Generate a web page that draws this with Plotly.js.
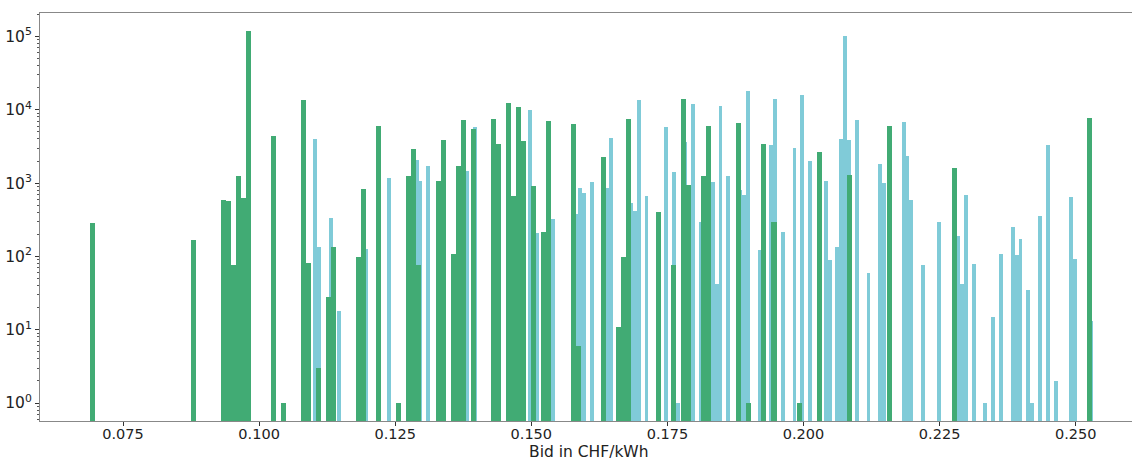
<!DOCTYPE html>
<html>
<head>
<meta charset="utf-8">
<script src="https://cdn.plot.ly/plotly-3.0.1.min.js"></script>
<style>html,body{margin:0;padding:0;background:#fff;overflow:hidden}#chart{width:1132px;height:460px}</style>
</head>
<body>
<div id="chart"></div>
<script>
// Green series: bin centres (CHF/kWh) and counts
const greenX = [0.06946,0.08786,0.09338,0.09430,0.09522,0.09614,0.09706,0.09798,0.10258,0.10442,
  0.10810,0.10902,0.11086,0.11270,0.11362,0.11822,0.11914,0.12190,0.12558,0.12742,
  0.12834,0.12926,0.13294,0.13386,0.13570,0.13662,0.13754,0.13938,0.14306,0.14398,
  0.14582,0.14674,0.14766,0.14858,0.15042,0.15226,0.15318,0.15778,0.15870,0.16330,
  0.16606,0.16698,0.16790,0.17342,0.17618,0.17802,0.17894,0.18170,0.18262,0.18814,
  0.18998,0.19274,0.19458,0.19918,0.20286,0.20838,0.21574,0.22770,0.25254];
const greenY = [290,167,582,565,76,1250,627,117800,4450,1,
  13490,81,3,28,133,97,823,6090,1,1250,
  2920,76,1070,3920,109,1695,7260,5540,7420,3460,
  12530,675,10820,3800,906,215,7120,6480,6,2250,
  11,97,7590,400,77,14200,953,1250,6090,6690,
  1,3460,292,1,2690,1277,6090,1592,7820];
const greenWidth = 0.00092;

// Blue series: bin centres (CHF/kWh) and counts
const blueX = [0.110318,0.111034,0.113181,0.114612,0.119622,0.123916,0.128926,0.129642,0.131073,0.138230,
  0.139662,0.149682,0.151113,0.153260,0.153976,0.158270,0.158986,0.159701,0.161133,0.163996,
  0.164711,0.168290,0.169005,0.169721,0.171153,0.174731,0.176162,0.176878,0.178310,0.179741,
  0.181172,0.183319,0.184035,0.184751,0.186182,0.188329,0.189045,0.189761,0.191908,0.194055,
  0.194771,0.196202,0.198349,0.199781,0.201212,0.204075,0.204790,0.206222,0.206938,0.207653,
  0.208369,0.209800,0.211947,0.214095,0.214810,0.218389,0.219104,0.219820,0.221967,0.224830,
  0.228409,0.229124,0.229840,0.231271,0.233418,0.234850,0.236281,0.238428,0.239144,0.239860,
  0.241291,0.242007,0.243438,0.244870,0.246301,0.249164,0.249880,0.252742];
const blueY = [4050,133,334,18,126,1175,2050,1070,1695,1450,
  5770,9840,208,840,328,375,857,733,1035,857,
  4090,535,412,13780,667,5770,1407,1,3600,12150,
  295,1026,42,11270,1238,805,682,18280,121,3350,
  14200,215,2980,16110,1983,1070,88,133,4000,100700,
  3920,7260,60,1805,994,6760,2370,589,77,292,
  188,42,682,78,1,15,107,255,105,175,
  35,1,352,3280,2,640,91,13];
const blueWidth = 0.0007157;

// Axis tick labels
const xTickVals = [0.075,0.100,0.125,0.150,0.175,0.200,0.225,0.250];
const xTickText = ['0.075','0.100','0.125','0.150','0.175','0.200','0.225','0.250'];
const yTickVals = [1,10,100,1000,10000,100000];
const yTickText = ['10<sup>0</sup>','10<sup>1</sup>','10<sup>2</sup>','10<sup>3</sup>','10<sup>4</sup>','10<sup>5</sup>'];
const xTitle = 'Bid in CHF/kWh';

const minorVals = [];
for (let e = -1; e <= 5; e++) for (let m = 2; m <= 9; m++) minorVals.push(m * Math.pow(10, e));

const traces = [
  {type:'bar', x: blueX, y: blueY, width: blueWidth, marker:{color:'#80cbd8', line:{width:0}}, hoverinfo:'x+y'},
  {type:'bar', x: greenX, y: greenY, width: greenWidth, marker:{color:'#41ab74', line:{width:0}}, hoverinfo:'x+y'}
];

const FAM = 'DejaVu Sans, sans-serif';
const layout = {
  width:1132, height:460,
  margin:{l:40, r:0, t:13, b:39, pad:0},
  paper_bgcolor:'#fff', plot_bgcolor:'#fff',
  barmode:'overlay', bargap:0, showlegend:false,
  font: {family:FAM, size:15, color:'#222'},
  xaxis:{
    range:[0.059754, 0.260342], tickmode:'array', tickvals:xTickVals, ticktext:xTickText,
    ticks:'outside', ticklen:3.5, tickwidth:1, tickcolor:'#333', ticklabelstandoff:-4,
    showline:true, linecolor:'#888', linewidth:1, mirror:true,
    showgrid:false, zeroline:false,
    tickfont:{family:FAM, size:14.5, color:'#222'}
  },
  yaxis:{
    type:'log', range:[-0.2456, 5.3206], tickmode:'array', tickvals:yTickVals, ticktext:yTickText,
    ticks:'outside', ticklen:4, tickwidth:1, tickcolor:'#333',
    showline:true, linecolor:'#888', linewidth:1, mirror:false,
    showgrid:false, zeroline:false,
    tickfont:{family:FAM, size:15.5, color:'#222'},
    minor:{tickmode:'array', tickvals:minorVals, ticks:'outside', ticklen:2, tickcolor:'#555', showgrid:false}
  },
  annotations:[{
    text:xTitle, xref:'paper', yref:'paper', x:0.503, y:-0.077,
    xanchor:'center', yanchor:'middle', showarrow:false,
    font:{family:FAM, size:15.5, color:'#222'}
  }]
};

Plotly.newPlot('chart', traces, layout, {staticPlot:true, displayModeBar:false});
</script>
</body>
</html>
